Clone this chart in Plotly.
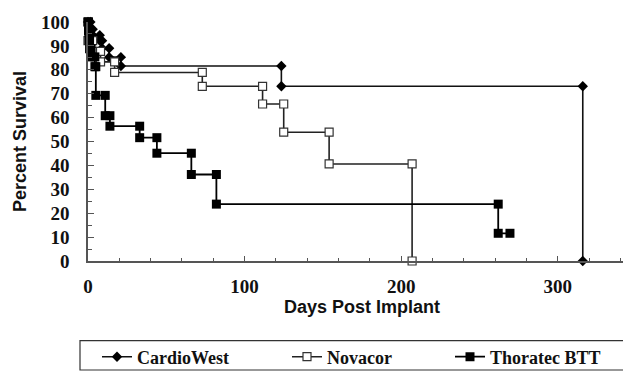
import plotly.graph_objects as go

# ---- data ----
cw_times = [1.5, 3, 7.5, 9, 13.5, 21, 123.5, 316]
cw_surv = [97, 94.5, 92.2, 89, 85.3, 81.6, 73.1, 0]

nv_times = [0, 3, 8, 17, 73, 111.5, 125, 154, 207]
nv_surv = [92.2, 87.7, 83.3, 78.9, 73.1, 65.7, 53.9, 40.6, 0]

th_times = [0.3, 0.6, 1, 2, 4.4, 5, 11, 14, 33, 44, 66, 82, 262]
th_surv = [96.3, 92.6, 88.8, 85.4, 81.3, 69.3, 60.8, 56.4, 51.6, 45.1, 36.2, 23.8, 11.6]
th_end = 269.5

x_ticks = [0, 100, 200, 300]
y_ticks = [0, 10, 20, 30, 40, 50, 60, 70, 80, 90, 100]


def km_vertices(times, surv, end=None, start=100):
    xs, ys = [0], [start]
    prev = start
    for t, s in zip(times, surv):
        if not (xs[-1] == t and ys[-1] == prev):
            xs.append(t)
            ys.append(prev)
        xs.append(t)
        ys.append(s)
        prev = s
    if end is not None:
        xs.append(end)
        ys.append(prev)
    return xs, ys


fig = go.Figure()

x, y = km_vertices(cw_times, cw_surv)
fig.add_trace(go.Scatter(x=x, y=y, mode="lines+markers", name="CardioWest",
                         line=dict(color="#111", width=1.6),
                         marker=dict(symbol="diamond", size=8, color="#000"),
                         cliponaxis=False, legend="legend"))
x, y = km_vertices(nv_times, nv_surv)
fig.add_trace(go.Scatter(x=x, y=y, mode="lines+markers", name="Novacor",
                         line=dict(color="#222", width=1.6),
                         marker=dict(symbol="square", size=8, color="white",
                                     line=dict(color="#333", width=1.2)),
                         cliponaxis=False, legend="legend2"))
x, y = km_vertices(th_times, th_surv, th_end)
fig.add_trace(go.Scatter(x=x, y=y, mode="lines+markers", name="Thoratec BTT",
                         line=dict(color="#000", width=1.8),
                         marker=dict(symbol="square", size=9, color="#000"),
                         cliponaxis=False, legend="legend3"))

L, R, T, B = 80, 3, 14, 113
W, H = 631, 371
pw, ph = W - L - R, H - T - B


def px_x(p):
    return (p - L) / pw


def px_y(p):
    return (H - B - p) / ph


serif = dict(family="Liberation Serif", size=18, color="#111", weight="bold")
tickserif = dict(family="Liberation Serif", size=19, color="#111", weight="bold")
sans = dict(family="Liberation Sans", size=18, color="#111", weight="bold")

legend_common = dict(orientation="h", font=serif, bgcolor="rgba(0,0,0,0)",
                     yanchor="middle", y=px_y(356), xanchor="left",
                     itemwidth=30)

fig.update_layout(
    width=W, height=H,
    margin=dict(l=L, r=R, t=T, b=B),
    paper_bgcolor="white", plot_bgcolor="white",
    showlegend=True,
    legend=dict(**legend_common, x=px_x(89)),
    legend2=dict(**legend_common, x=px_x(279)),
    legend3=dict(**legend_common, x=px_x(442)),
    xaxis=dict(range=[0, 350], tickvals=x_ticks, ticktext=[str(v) for v in x_ticks],
               ticks="inside", ticklen=5, tickcolor="#555", tickwidth=1.2,
               minor=dict(dtick=20, ticks="inside", ticklen=3, tickcolor="#555", tickwidth=1),
               showline=True, linecolor="#555", linewidth=1.5, showgrid=False,
               zeroline=False, tickfont=tickserif, ticklabelstandoff=7,
               title=dict(text="Days Post Implant", font=sans, standoff=2)),
    yaxis=dict(range=[0, 100], tickvals=y_ticks, ticktext=[str(v) for v in y_ticks],
               ticks="inside", ticklen=6, tickcolor="#555", tickwidth=1.2,
               minor=dict(dtick=5, ticks="inside", ticklen=4, tickcolor="#555", tickwidth=1),
               showline=True, linecolor="#555", linewidth=1.5, showgrid=False,
               zeroline=False, tickfont=tickserif, ticklabelstandoff=13,
               title=dict(text="Percent Survival", font=sans, standoff=10)),
    shapes=[dict(type="rect", xref="paper", yref="paper",
                 x0=px_x(72), x1=px_x(626.5), y0=px_y(369.3), y1=px_y(339.3),
                 line=dict(color="#333", width=1.2), fillcolor="rgba(0,0,0,0)")],
)

fig.write_html("out.html")
